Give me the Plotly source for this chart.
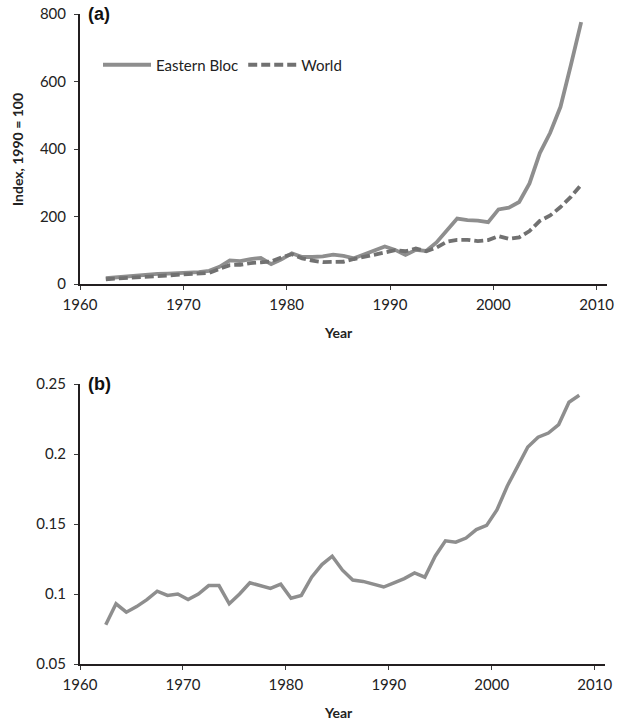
import plotly.graph_objects as go

# ---- data ----
years = list(range(1962, 2009))
eastern_bloc = [17, 20, 22, 25, 28, 30, 31, 32, 33, 35, 39,
                51, 70, 68, 74, 77, 59, 73, 91, 80, 80,
                82, 87, 83, 76, 87, 98, 111, 101, 86, 101,
                98, 123, 158, 194, 189, 188, 183, 221, 226, 243,
                298, 388, 448, 525, 648, 776]
world = [14, 16, 18, 20, 22, 23, 24, 26, 28, 30, 33,
         45, 56, 57, 62, 64, 67, 79, 88, 76, 69,
         65, 65, 66, 74, 80, 87, 92, 100, 97, 105,
         97, 108, 125, 131, 131, 127, 130, 142, 134, 138,
         157, 187, 203, 228, 258, 294]
share = [0.078, 0.093, 0.087, 0.091, 0.096, 0.102, 0.099, 0.100, 0.096, 0.100, 0.106,
         0.106, 0.093, 0.100, 0.108, 0.106, 0.104, 0.107, 0.097, 0.099, 0.112,
         0.121, 0.127, 0.117, 0.110, 0.109, 0.107, 0.105, 0.108, 0.111, 0.115,
         0.112, 0.127, 0.138, 0.137, 0.140, 0.146, 0.149, 0.160, 0.177, 0.191,
         0.205, 0.212, 0.215, 0.221, 0.237, 0.242]
x_ticks = [1960, 1970, 1980, 1990, 2000, 2010]
ya_ticks = [0, 200, 400, 600, 800]
yb_ticks = [0.05, 0.1, 0.15, 0.2, 0.25]

# plotted at mid-year
xmid = [y + 0.5 for y in years]

W, H = 617, 722
FONT = "Lato"
AXC = "#231f20"
TICKC = "#3a3a3a"

fig = go.Figure()
fig.add_trace(go.Scatter(x=xmid, y=eastern_bloc, mode="lines", name="Eastern Bloc",
                         line=dict(color="#8e8e8e", width=3.8), xaxis="x", yaxis="y"))
fig.add_trace(go.Scatter(x=xmid, y=world, mode="lines", name="World",
                         line=dict(color="#717171", width=3.8, dash="9px,4px"),
                         xaxis="x", yaxis="y"))
fig.add_trace(go.Scatter(x=xmid, y=share, mode="lines", name="share", showlegend=False,
                         line=dict(color="#8e8e8e", width=3.5), xaxis="x2", yaxis="y2"))

def px_x(p):
    return p / W

def px_y(p):
    return 1 - p / H

axis_common = dict(showgrid=False, zeroline=False, showline=True, linecolor=AXC,
                   linewidth=2, ticks="outside", ticklen=4, tickwidth=1, tickcolor=TICKC,
                   tickfont=dict(family=FONT, size=15, color="#222"), automargin=False)

fig.update_layout(
    width=W, height=H,
    margin=dict(l=0, r=0, t=0, b=0),
    paper_bgcolor="white", plot_bgcolor="white",
    font=dict(family=FONT, color="#222"),
    xaxis=dict(domain=[px_x(80), px_x(607)], range=[1960, 2011], tickvals=x_ticks,
               anchor="y", ticklabelstandoff=2, **axis_common),
    yaxis=dict(domain=[px_y(284), px_y(14)], range=[0, 800], tickvals=ya_ticks,
               anchor="x", ticklabelstandoff=5, **axis_common),
    xaxis2=dict(domain=[px_x(80), px_x(605)], range=[1960, 2011], tickvals=x_ticks,
                anchor="y2", ticklabelstandoff=2, **axis_common),
    yaxis2=dict(domain=[px_y(664), px_y(384)], range=[0.05, 0.25], tickvals=yb_ticks,
                anchor="x2", ticklabelstandoff=5, **axis_common),
    legend=dict(orientation="h", x=px_x(98), xanchor="left", y=px_y(65), yanchor="middle",
                font=dict(family=FONT, size=15, color="#222"), itemwidth=48,
                bgcolor="rgba(0,0,0,0)", borderwidth=0, tracegroupgap=0),
    showlegend=True,
)

ann = [
    dict(text="<b>(a)</b>", x=px_x(86), y=px_y(14), xanchor="left", yanchor="middle",
         font=dict(family="Liberation Sans", size=18, color="#111")),
    dict(text="<b>(b)</b>", x=px_x(86), y=px_y(384), xanchor="left", yanchor="middle",
         font=dict(family="Liberation Sans", size=18, color="#111")),
    dict(text="<b>Year</b>", x=px_x(338), y=px_y(333), xanchor="center", yanchor="middle",
         font=dict(family=FONT, size=14, color="#222")),
    dict(text="<b>Year</b>", x=px_x(338), y=px_y(712), xanchor="center", yanchor="middle",
         font=dict(family=FONT, size=14, color="#222")),
    dict(text="<b>Index, 1990 = 100</b>", x=px_x(17), y=px_y(150), xanchor="center",
         yanchor="middle", textangle=-90, font=dict(family=FONT, size=14, color="#222")),
]
for a in ann:
    a.update(xref="paper", yref="paper", showarrow=False)
fig.update_layout(annotations=ann)

fig.write_html("out.html", config={"displayModeBar": False})

# remove default page margin so the 617x722 figure fits the window exactly
with open("out.html", "r", encoding="utf-8") as f:
    html = f.read()
html = html.replace("<head>", "<head><style>html,body{margin:0;padding:0;overflow:hidden;}</style>", 1)
with open("out.html", "w", encoding="utf-8") as f:
    f.write(html)
